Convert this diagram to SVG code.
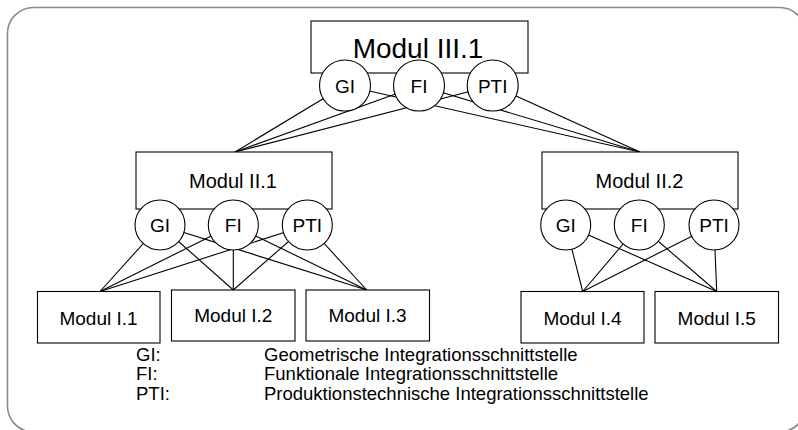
<svg xmlns="http://www.w3.org/2000/svg" width="798" height="430" viewBox="0 0 798 430">
  <style>
    .frame { fill: #ffffff; stroke: #8a8a8a; stroke-width: 1.6; }
    .box { fill: #ffffff; stroke: #000000; stroke-width: 1.1; }
    .port { fill: #ffffff; stroke: #000000; stroke-width: 1.1; }
    .link { stroke: #000000; stroke-width: 1.1; fill: none; }
    text { font-family: "Liberation Sans", Arial, sans-serif; fill: #000000; }
    .lbl { text-anchor: middle; }
    .big { font-size: 28px; }
    .mid { font-size: 20px; }
    .small { font-size: 19px; }
    .port-t { font-size: 19px; }
    .legend { font-size: 18.5px; }
  </style>

  <!-- outer frame -->
  <rect class="frame" x="7.5" y="7.5" width="798" height="424.5" rx="26" ry="26"/>

  <!-- connectors (drawn first; ports cover their inner ends) -->
  <g id="connectors">
    <!-- III.1 ports to II.1 and II.2 -->
    <line class="link" x1="345" y1="85.5" x2="235" y2="152"/>
    <line class="link" x1="419" y1="85.5" x2="235" y2="152"/>
    <line class="link" x1="492.7" y1="85.5" x2="235" y2="152"/>
    <line class="link" x1="345" y1="85.5" x2="640" y2="152"/>
    <line class="link" x1="419" y1="85.5" x2="640" y2="152"/>
    <line class="link" x1="492.7" y1="85.5" x2="640" y2="152"/>
    <!-- II.1 ports to I.1, I.2, I.3 -->
    <line class="link" x1="160" y1="225" x2="100" y2="291.5"/>
    <line class="link" x1="233.3" y1="225" x2="100" y2="291.5"/>
    <line class="link" x1="307.3" y1="225" x2="100" y2="291.5"/>
    <line class="link" x1="160" y1="225" x2="233.3" y2="290"/>
    <line class="link" x1="233.3" y1="225" x2="233.3" y2="290"/>
    <line class="link" x1="307.3" y1="225" x2="233.3" y2="290"/>
    <line class="link" x1="160" y1="225" x2="366.7" y2="290"/>
    <line class="link" x1="233.3" y1="225" x2="366.7" y2="290"/>
    <line class="link" x1="307.3" y1="225" x2="366.7" y2="290"/>
    <!-- II.2 ports to I.4, I.5 -->
    <line class="link" x1="565.7" y1="225" x2="582.7" y2="291.5"/>
    <line class="link" x1="639.3" y1="225" x2="582.7" y2="291.5"/>
    <line class="link" x1="714" y1="225" x2="582.7" y2="291.5"/>
    <line class="link" x1="565.7" y1="225" x2="716.7" y2="291.5"/>
    <line class="link" x1="639.3" y1="225" x2="716.7" y2="291.5"/>
    <line class="link" x1="714" y1="225" x2="716.7" y2="291.5"/>
  </g>

  <!-- top module -->
  <g id="modul-III-1">
    <rect class="box" x="311" y="21" width="217" height="52"/>
    <text class="lbl big" x="418" y="58">Modul III.1</text>
    <circle class="port" cx="345" cy="85.5" r="25.5"/>
    <text class="lbl port-t" x="345" y="92.5">GI</text>
    <circle class="port" cx="419" cy="85.5" r="25.5"/>
    <text class="lbl port-t" x="419" y="92.5">FI</text>
    <circle class="port" cx="492.7" cy="85.5" r="25.5"/>
    <text class="lbl port-t" x="492.7" y="92.5">PTI</text>
  </g>

  <!-- middle modules -->
  <g id="modul-II-1">
    <rect class="box" x="136" y="152" width="196" height="57"/>
    <text class="lbl mid" x="233" y="188">Modul II.1</text>
    <circle class="port" cx="160" cy="225" r="25"/>
    <text class="lbl port-t" x="160" y="232">GI</text>
    <circle class="port" cx="233.3" cy="225" r="25"/>
    <text class="lbl port-t" x="233.3" y="232">FI</text>
    <circle class="port" cx="307.3" cy="225" r="25"/>
    <text class="lbl port-t" x="307.3" y="232">PTI</text>
  </g>

  <g id="modul-II-2">
    <rect class="box" x="542" y="152" width="196" height="57"/>
    <text class="lbl mid" x="639.5" y="188">Modul II.2</text>
    <circle class="port" cx="565.7" cy="225" r="25"/>
    <text class="lbl port-t" x="565.7" y="232">GI</text>
    <circle class="port" cx="639.3" cy="225" r="25"/>
    <text class="lbl port-t" x="639.3" y="232">FI</text>
    <circle class="port" cx="714" cy="225" r="25"/>
    <text class="lbl port-t" x="714" y="232">PTI</text>
  </g>

  <!-- bottom modules -->
  <g id="modul-I-1">
    <rect class="box" x="37.5" y="291.5" width="122.5" height="51.5"/>
    <text class="lbl small" x="98.5" y="324.5">Modul I.1</text>
  </g>
  <g id="modul-I-2">
    <rect class="box" x="171.5" y="290" width="123.5" height="51"/>
    <text class="lbl small" x="233.3" y="322">Modul I.2</text>
  </g>
  <g id="modul-I-3">
    <rect class="box" x="306" y="290" width="123.5" height="51"/>
    <text class="lbl small" x="367.5" y="322">Modul I.3</text>
  </g>
  <g id="modul-I-4">
    <rect class="box" x="521" y="291.5" width="123" height="51.5"/>
    <text class="lbl small" x="582.5" y="324.5">Modul I.4</text>
  </g>
  <g id="modul-I-5">
    <rect class="box" x="655" y="291.5" width="123.5" height="51.5"/>
    <text class="lbl small" x="716.7" y="324.5">Modul I.5</text>
  </g>

  <!-- legend -->
  <g id="legend" class="legend">
    <text x="136" y="360.5">GI:</text>
    <text x="264" y="360.5">Geometrische Integrationsschnittstelle</text>
    <text x="136" y="380">FI:</text>
    <text x="264" y="380">Funktionale Integrationsschnittstelle</text>
    <text x="136" y="399.5">PTI:</text>
    <text x="264" y="399.5">Produktionstechnische Integrationsschnittstelle</text>
  </g>
</svg>
